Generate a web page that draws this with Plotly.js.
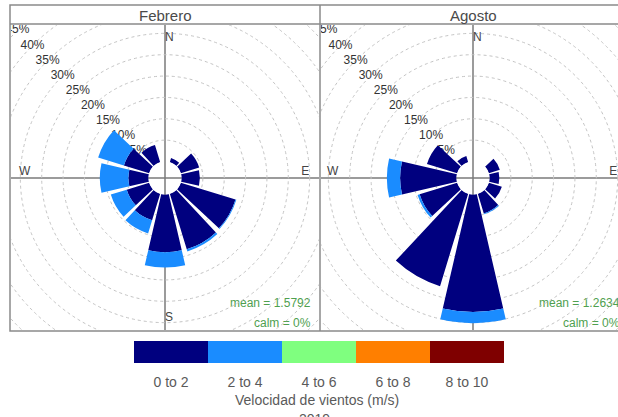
<!DOCTYPE html>
<html>
<head>
<meta charset="utf-8">
<script src="https://cdn.plot.ly/plotly-3.0.1.min.js"></script>
<style>
  html, body { margin:0; padding:0; width:618px; height:417px; overflow:hidden; background:#fff; }
  #main { position:absolute; left:0; top:0; width:618px; height:417px; }
  .clip { position:absolute; overflow:hidden; }
  .rose { position:absolute; width:426px; height:426px; }
</style>
</head>
<body>
<div id="main"></div>
<div class="clip" style="left:11px; top:25px; width:308px; height:305px;">
  <div class="rose" id="baseL" style="left:-59px; top:-60px;"></div>
  <div class="rose" id="roseL" style="left:-59px; top:-60px;"></div>
</div>
<div class="clip" style="left:321px; top:25px; width:310px; height:305px;">
  <div class="rose" id="baseR" style="left:-61px; top:-60px;"></div>
  <div class="rose" id="roseR" style="left:-61px; top:-60px;"></div>
</div>
<script>
// ---------------- data ----------------
const directions = [0, 30, 60, 90, 120, 150, 180, 210, 240, 270, 300, 330];
const speedBins = ['0 to 2', '2 to 4', '4 to 6', '6 to 8', '8 to 10'];
const binColors = ['#00007F', '#1A8CFF', '#7FFF7F', '#FF7F00', '#7F0000'];

// percentage of time per direction, per speed bin
const febrero_0to2 = [0, 1.0, 4.5, 4.3, 13.4, 13.6, 13.5, 6.5, 5.5, 4.7, 6.2, 4.2];
const febrero_2to4 = [0, 0, 0, 0, 0.2, 0.5, 3.6, 3.2, 3.9, 6.7, 6.3, 0];
const agosto_0to2  = [0, 0, 2.7, 2.3, 3.2, 4.8, 27.5, 22.6, 9.2, 13.2, 7.4, 1.5];
const agosto_2to4  = [0, 0, 0, 0, 0, 0.2, 2.6, 0, 0.5, 3.1, 0, 0];

const panelNames = ['Febrero', 'Agosto'];
const meanLabels = ['mean = 1.5792', 'mean = 1.2634'];
const calmLabels = ['calm = 0%', 'calm = 0%'];

const ringLevels = [5, 10, 15, 20, 25, 30, 35, 40, 45];
const ringLabels = ['5%', '10%', '15%', '20%', '25%', '30%', '35%', '40%', '45%'];
const compassLabels = ['N', 'E', 'S', 'W'];
const compassAngles = [0, 90, 180, 270];

const legendTitle = 'Velocidad de vientos (m/s)';
const yearLabel = '2019';

// ---------------- helpers ----------------
const FONT = 'Liberation Sans, Arial, sans-serif';
const W = 618, H = 417;
const px = x => x / W;
const py = y => 1 - y / H;
const frameColor = '#8a8a8a';

// ---------------- main figure (frame, strips, key) ----------------
const shapes = [
  {type:'rect', xref:'paper', yref:'paper', x0:px(10), x1:px(640), y0:py(5), y1:py(331), line:{color:frameColor, width:1.5}},
  {type:'line', xref:'paper', yref:'paper', x0:px(10), x1:px(640), y0:py(24), y1:py(24), line:{color:frameColor, width:1.5}},
  {type:'line', xref:'paper', yref:'paper', x0:px(320), x1:px(320), y0:py(5), y1:py(331), line:{color:frameColor, width:1.5}}
];
const panelCentersX = [165, 473];
const annotations = [];
panelNames.forEach((n, i) => {
  annotations.push({xref:'paper', yref:'paper', x:px(panelCentersX[i]), y:py(15), text:n, showarrow:false,
    xanchor:'center', yanchor:'middle', font:{family:FONT, size:15, color:'#4a4a4a'}});
});
const textRight = [313, 622];
const greenText = '#4fa04f';
meanLabels.forEach((t, i) => {
  annotations.push({xref:'paper', yref:'paper', x:px(textRight[i]), y:py(303), text:t, showarrow:false,
    xanchor:'right', yanchor:'middle', font:{family:FONT, size:12, color:greenText}});
  annotations.push({xref:'paper', yref:'paper', x:px(textRight[i]), y:py(323), text:calmLabels[i], showarrow:false,
    xanchor:'right', yanchor:'middle', font:{family:FONT, size:12, color:greenText}});
});
annotations.push({xref:'paper', yref:'paper', x:px(317), y:py(400), text:legendTitle, showarrow:false,
  xanchor:'center', yanchor:'middle', font:{family:FONT, size:14, color:'#5a5a5a'}});
annotations.push({xref:'paper', yref:'paper', x:px(314), y:py(419), text:yearLabel, showarrow:false,
  xanchor:'center', yanchor:'middle', font:{family:FONT, size:14, color:'#5a5a5a'}});

const keyTrace = {
  type:'heatmap', x:speedBins, y:['key'], z:[speedBins.map((_, i) => i)],
  zmin:0, zmax:speedBins.length - 1,
  colorscale: binColors.map((c, i) => [i / (binColors.length - 1), c]),
  showscale:false, hoverinfo:'skip', xgap:0
};

Plotly.newPlot('main', [keyTrace], {
  width:W, height:H, margin:{l:0, r:0, t:0, b:0},
  paper_bgcolor:'#fff', plot_bgcolor:'#fff', showlegend:false,
  font:{family:FONT},
  xaxis:{domain:[px(134), px(504)], anchor:'y', type:'category', ticks:'outside', ticklen:6,
    tickcolor:'rgba(0,0,0,0)', showline:false, showgrid:false, zeroline:false, fixedrange:true,
    tickfont:{family:FONT, size:14, color:'#5a5a5a'}},
  yaxis:{domain:[py(363), py(341)], anchor:'x', visible:false, fixedrange:true},
  shapes:shapes, annotations:annotations
}, {staticPlot:true});

// ---------------- wind roses ----------------
function polarLayout(showGrid) {
  return {
    width:426, height:426, margin:{l:0, r:0, t:0, b:0},
    paper_bgcolor:'rgba(0,0,0,0)', showlegend:false,
    font:{family:FONT},
    polar:{
      domain:{x:[0, 1], y:[0, 1]}, hole:0.0775, bgcolor:'rgba(0,0,0,0)',
      barmode:'stack', bargap:0.13,
      radialaxis:{range:[0, 46], tickvals:ringLevels, showticklabels:false, ticks:'', showline:false,
        showgrid:showGrid, gridcolor:'#c4c4c4', griddash:'dot', gridwidth:1},
      angularaxis:{rotation:90, direction:'clockwise', showgrid:false, showticklabels:false, ticks:'',
        showline:false}
    }
  };
}

function drawRose(baseId, roseId, low, mid) {
  // lower layer: axis cross, grid rings, labels
  const baseTraces = [
    {type:'scatterpolar', mode:'text', r:ringLevels, theta:ringLevels.map(() => 315), text:ringLabels,
      textposition:'middle center', textfont:{family:FONT, size:12, color:'#333'}, cliponaxis:false, hoverinfo:'skip'},
    {type:'scatterpolar', mode:'text', r:compassAngles.map(() => 29.0), theta:compassAngles, text:compassLabels,
      textposition:['middle right', 'top center', 'middle right', 'top center'],
      textfont:{family:FONT, size:12, color:'#444'}, cliponaxis:false, hoverinfo:'skip'}
  ];
  const baseLayout = polarLayout(true);
  baseLayout.shapes = [
    {type:'line', xref:'paper', yref:'paper', x0:0.5, x1:0.5, y0:0, y1:1, layer:'below', line:{color:'#7a7a7a', width:1.5}},
    {type:'line', xref:'paper', yref:'paper', x0:0, x1:1, y0:0.5, y1:0.5, layer:'below', line:{color:'#7a7a7a', width:1.5}}
  ];
  Plotly.newPlot(baseId, baseTraces, baseLayout, {staticPlot:true});

  // upper layer: stacked bars
  const barTraces = [
    {type:'barpolar', r:low, theta:directions, name:speedBins[0], marker:{color:binColors[0], line:{width:0}}, hoverinfo:'skip'},
    {type:'barpolar', r:mid, theta:directions, name:speedBins[1], marker:{color:binColors[1], line:{width:0}}, hoverinfo:'skip'}
  ];
  Plotly.newPlot(roseId, barTraces, polarLayout(false), {staticPlot:true});
}
drawRose('baseL', 'roseL', febrero_0to2, febrero_2to4);
drawRose('baseR', 'roseR', agosto_0to2, agosto_2to4);
</script>
</body>
</html>
